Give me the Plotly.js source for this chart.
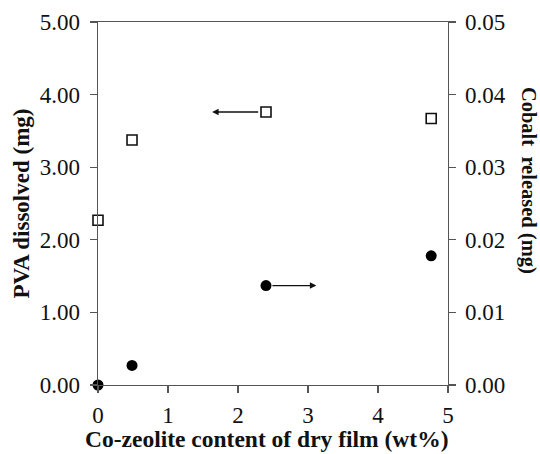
<!DOCTYPE html>
<html><head><meta charset="utf-8">
<script src="https://cdn.plot.ly/plotly-3.0.1.min.js"></script>
<style>html,body{margin:0;padding:0;background:#fff}#chart{width:540px;height:454px}</style>
</head><body><div id="chart"></div>
<script>
// Data
var zeoliteContent = [0, 0.486, 2.40, 4.76];           // wt%
var pvaDissolved   = [2.27, 3.375, 3.76, 3.67];         // mg (left axis)
var cobaltReleased = [0.0, 0.0027, 0.0137, 0.0178];     // mg (right axis)
var xTicks  = [0, 1, 2, 3, 4, 5];
var yTicks  = [0, 1, 2, 3, 4, 5];
var y2Ticks = [0, 0.01, 0.02, 0.03, 0.04, 0.05];
// arrow annotations: [headX, tailX, yValue]
var pvaArrow    = [1.63, 2.31, 3.76];
var cobaltArrow = [3.12, 2.47, 0.0137];

var font = '"Liberation Serif", "Times New Roman", serif';
var axisColor = '#555';
var tickSize = 23;

var traces = [
  {x: zeoliteContent, y: pvaDissolved, type: 'scatter', mode: 'markers', name: 'PVA', cliponaxis: false,
   marker: {symbol: 'square-open', size: 10, color: '#111', line: {width: 1.6, color: '#111'}}},
  {x: zeoliteContent, y: cobaltReleased, type: 'scatter', mode: 'markers', name: 'Cobalt', yaxis: 'y2', cliponaxis: false,
   marker: {symbol: 'circle', size: 11, color: '#000'}}
];

var layout = {
  width: 540, height: 454,
  margin: {l: 98, r: 92, t: 22, b: 69},
  paper_bgcolor: '#fff', plot_bgcolor: '#fff',
  showlegend: false,
  font: {family: font, size: tickSize, color: '#111'},
  xaxis: {
    range: [0, 5], tickvals: xTicks, ticktext: xTicks.map(String),
    showgrid: false, zeroline: false, showline: true, linecolor: axisColor, linewidth: 1.3,
    mirror: true, ticks: 'outside', ticklen: 7, tickcolor: axisColor, tickwidth: 1.3, ticklabelstandoff: 2,
    tickfont: {family: font, size: tickSize, color: '#111'}
  },
  yaxis: {
    range: [0, 5], tickvals: yTicks, tickformat: '.2f',
    showgrid: false, zeroline: false, showline: true, linecolor: axisColor, linewidth: 1.3,
    ticks: 'outside', ticklen: 7, tickcolor: axisColor, tickwidth: 1.3, ticklabelstandoff: 5,
    title: {text: '<b>PVA dissolved (mg)</b>', font: {family: font, size: 23, color: '#111'}, standoff: 3},
    tickfont: {family: font, size: tickSize, color: '#111'}
  },
  yaxis2: {
    range: [0, 0.05], tickvals: y2Ticks, tickformat: '.2f', overlaying: 'y', side: 'right',
    showgrid: false, zeroline: false, showline: true, linecolor: axisColor, linewidth: 1.3,
    ticks: 'outside', ticklen: 7, tickcolor: axisColor, tickwidth: 1.3, ticklabelstandoff: 4,
    tickfont: {family: font, size: tickSize, color: '#111'}
  },
  annotations: [
    {x: pvaArrow[0], y: pvaArrow[2], xref: 'x', yref: 'y', ax: pvaArrow[1], ay: pvaArrow[2], axref: 'x', ayref: 'y',
     showarrow: true, arrowhead: 2, arrowsize: 1, arrowwidth: 1.3, arrowcolor: '#111', text: ''},
    {x: cobaltArrow[0], y: cobaltArrow[2], xref: 'x', yref: 'y2', ax: cobaltArrow[1], ay: cobaltArrow[2], axref: 'x', ayref: 'y2',
     showarrow: true, arrowhead: 2, arrowsize: 1, arrowwidth: 1.3, arrowcolor: '#111', text: ''},
    {text: '<b>Co-zeolite content of dry film (wt%)</b>', xref: 'paper', yref: 'paper', x: 0.481, y: 0,
     xanchor: 'center', yanchor: 'middle', yshift: -54, showarrow: false, font: {family: font, size: 23.5, color: '#111'}},
    {text: '<b>Cobalt  released (mg)</b>', xref: 'paper', yref: 'paper', x: 1, y: 0.565, xanchor: 'center', yanchor: 'middle',
     xshift: 80, textangle: 90, showarrow: false, font: {family: font, size: 20.5, color: '#111'}}
  ]
};

Plotly.newPlot('chart', traces, layout, {displayModeBar: false, staticPlot: true});
</script>
</body></html>
